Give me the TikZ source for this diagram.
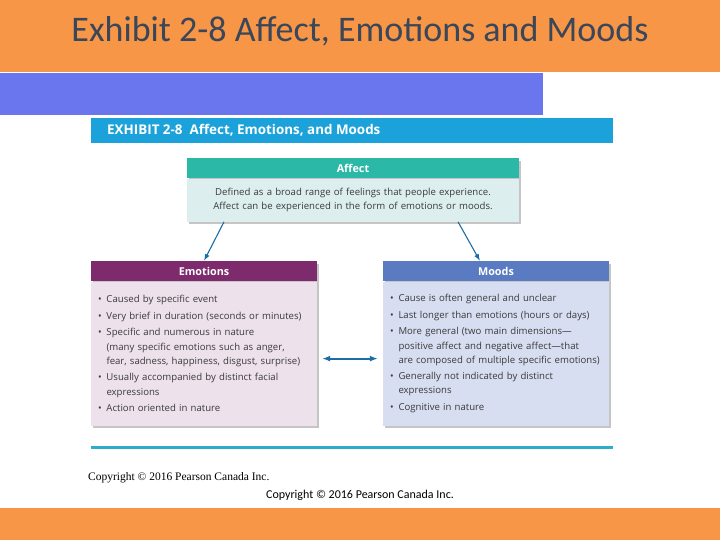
\documentclass[tikz,border=0pt]{standalone}
\usepackage{fontspec}
\setmainfont{Open Sans}
\newfontfamily\slidefont{Carlito}
\newfontfamily\serifcopy{Liberation Serif}
\usetikzlibrary{arrows.meta,shadows}
\definecolor{slideorange}{HTML}{F79646}
\definecolor{slideblue}{HTML}{6A76EE}
\definecolor{titlegrey}{HTML}{3A4659}
\definecolor{exhibitblue}{HTML}{1CA2DA}
\definecolor{affecthead}{HTML}{2CB8A7}
\definecolor{affectbody}{HTML}{DCEFEE}
\definecolor{emohead}{HTML}{7D2B6D}
\definecolor{emobody}{HTML}{EDE1EB}
\definecolor{moodhead}{HTML}{5A7BC1}
\definecolor{moodbody}{HTML}{D8DEF1}
\definecolor{arrowblue}{HTML}{1C6DA6}
\definecolor{ruleblue}{HTML}{2EADCB}
\definecolor{bodytext}{HTML}{3A3A3A}
\newcommand{\bul}{\makebox[8.5pt][l]{\textbullet}}
\newcommand{\ind}{\hspace*{8.5pt}}
\tikzset{
  boxshadow/.style={drop shadow={shadow xshift=2pt,shadow yshift=-2.5pt,fill=black!45}},
  headbox/.style={boxshadow, text=white, inner sep=0pt, minimum height=20pt,
    font=\bfseries\fontsize{10.8}{12}\selectfont},
  bodybox/.style={boxshadow, text=bodytext, inner xsep=7pt, inner ysep=0pt,
    align=left, font=\fontsize{9.6}{14.2}\selectfont},
  arr/.style={arrowblue, line width=1.1pt, -{Latex[length=7pt,width=5pt]}}
}

\begin{document}
\begin{tikzpicture}[x=1pt,y=-1pt]
\useasboundingbox (0,0) rectangle (720,540);
\fill[slideorange] (0,0) rectangle (720,72);
\fill[slideorange] (0,508) rectangle (720,540);
\fill[slideblue] (0,73) rectangle (543,115);
\node[text=titlegrey, font=\slidefont\fontsize{36}{38}\selectfont] (title) at (360,31) {Exhibit 2-8 Affect, Emotions and Moods};
\node[fill=exhibitblue, minimum width=522pt, minimum height=25pt, inner sep=0pt] (exhibit) at (352,130.5) {};
\node[text=white, anchor=west, inner sep=0pt, font=\bfseries\fontsize{13.4}{15}\selectfont] (exhibittext) at (107,130.5) {EXHIBIT 2-8\ \ Affect, Emotions, and Moods};
\node[headbox, fill=affecthead, minimum width=332pt, anchor=north] (affecthd) at (353,158) {Affect};
\node[bodybox, fill=affectbody, text width=318pt, minimum height=43pt, anchor=north, align=center] (affectbd) at (affecthd.south) {Defined as a broad range of feelings that people experience.\\Affect can be experienced in the form of emotions or moods.};
\node[headbox, fill=emohead, minimum width=226pt, anchor=north] (emohd) at (204,261) {Emotions};
\node[bodybox, fill=emobody, text width=212pt, minimum height=144pt, anchor=north] (emobd) at (emohd.south) {%
\bul Caused by specific event\\[2.3pt]
\bul Very brief in duration (seconds or minutes)\\[2.3pt]
\bul Specific and numerous in nature\\
\ind (many specific emotions such as anger,\\
\ind fear, sadness, happiness, disgust, surprise)\\[2.3pt]
\bul Usually accompanied by distinct facial\\
\ind expressions\\[2.3pt]
\bul Action oriented in nature};
\node[headbox, fill=moodhead, minimum width=226pt, anchor=north] (moodhd) at (496,261) {Moods};
\node[bodybox, fill=moodbody, text width=212pt, minimum height=144pt, anchor=north] (moodbd) at (moodhd.south) {%
\bul Cause is often general and unclear\\[2.3pt]
\bul Last longer than emotions (hours or days)\\[2.3pt]
\bul More general (two main dimensions---\\
\ind positive affect and negative affect---that\\
\ind are composed of multiple specific emotions)\\[2.3pt]
\bul Generally not indicated by distinct\\
\ind expressions\\[2.3pt]
\bul Cognitive in nature};
\draw[arr] ([xshift=-129pt]affectbd.south) -- (emohd.north);
\draw[arr] ([xshift=105pt]affectbd.south) -- ([xshift=-16pt]moodhd.north);
\draw[arrowblue, line width=1.8pt, {Latex[length=8pt,width=6pt]}-{Latex[length=8pt,width=6pt]}] ([xshift=5pt,yshift=-5pt]emobd.east) -- ([xshift=-5pt,yshift=-5pt]moodbd.west);
\draw[ruleblue, line width=3pt] (91,447) -- (613,447);
\node[anchor=west, inner sep=0pt, font=\serifcopy\fontsize{11.5}{13}\selectfont] (copyserif) at (88,478) {Copyright \textcopyright{} 2016 Pearson Canada Inc.};
\node[inner sep=0pt, font=\slidefont\fontsize{12}{14}\selectfont] (copysans) at (360,495) {Copyright \textcopyright{} 2016 Pearson Canada Inc.};
\end{tikzpicture}
\end{document}
